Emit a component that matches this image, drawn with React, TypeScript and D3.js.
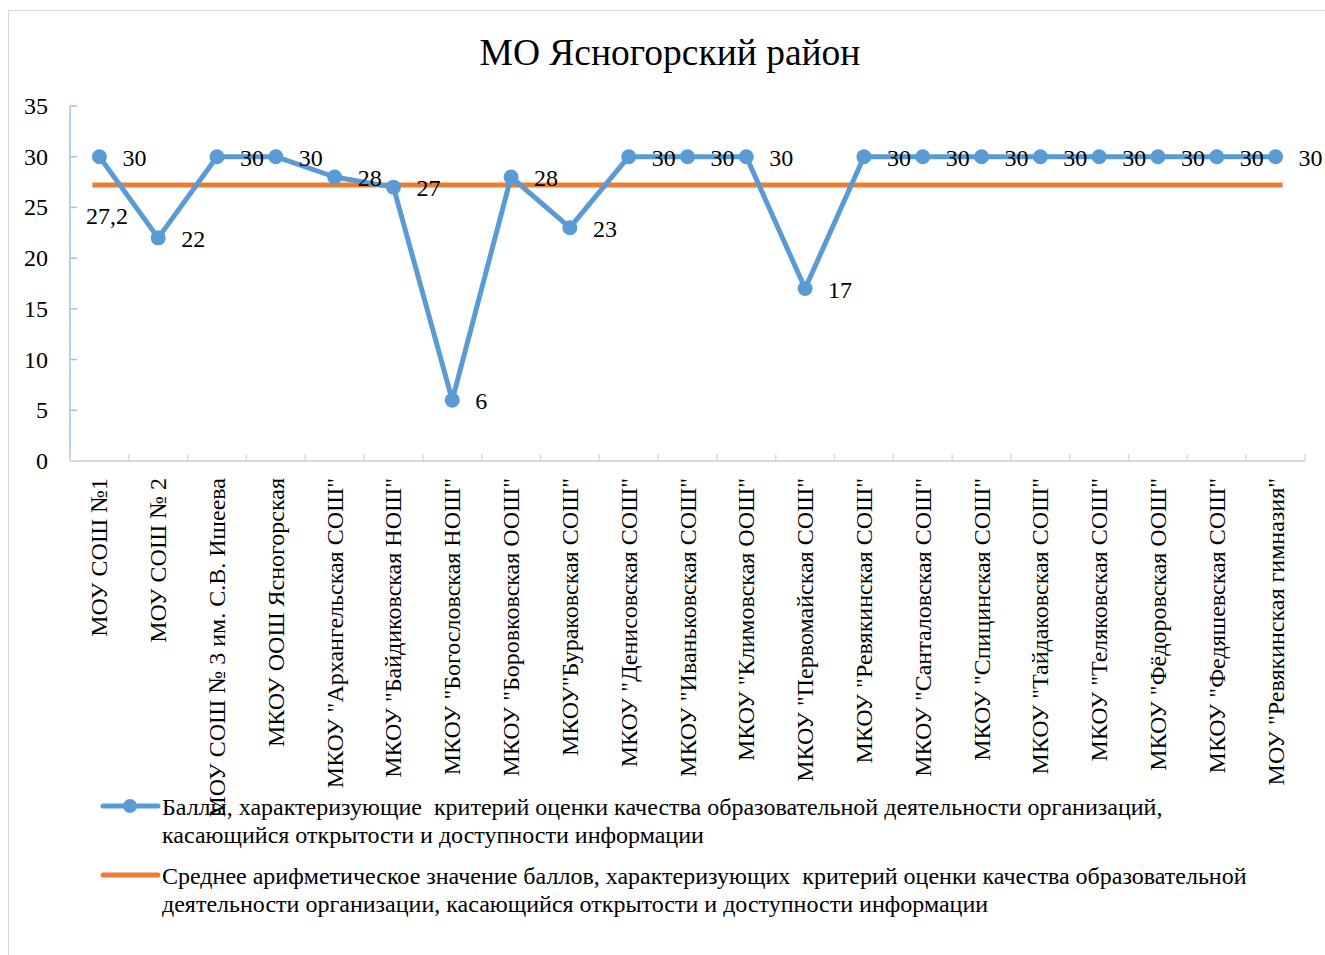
import * as d3 from "d3";

const title = "МО Ясногорский район";

const schools = [
  "МОУ СОШ №1",
  "МОУ СОШ № 2",
  "МОУ СОШ № 3 им. С.В. Ишеева",
  "МКОУ ООШ Ясногорская",
  'МКОУ "Архангельская СОШ"',
  'МКОУ "Байдиковская НОШ"',
  'МКОУ "Богословская НОШ"',
  'МКОУ "Боровковская ООШ"',
  'МКОУ"Бураковская СОШ"',
  'МКОУ "Денисовская СОШ"',
  'МКОУ "Иваньковская СОШ"',
  'МКОУ "Климовская ООШ"',
  'МКОУ "Первомайская СОШ"',
  'МКОУ "Ревякинская СОШ"',
  'МКОУ "Санталовская СОШ"',
  'МКОУ "Спицинская СОШ"',
  'МКОУ "Тайдаковская СОШ"',
  'МКОУ "Теляковская СОШ"',
  'МКОУ "Фёдоровская ООШ"',
  'МКОУ "Федяшевская СОШ"',
  'МОУ "Ревякинская гимназия"',
];

const scores = [30, 22, 30, 30, 28, 27, 6, 28, 23, 30, 30, 30, 17, 30, 30, 30, 30, 30, 30, 30, 30];

const average = 27.2;
const averageLabel = "27,2";

const yTicks = [0, 5, 10, 15, 20, 25, 30, 35];

const legendScores = [
  "Баллы, характеризующие  критерий оценки качества образовательной деятельности организаций,",
  "касающийся открытости и доступности информации",
];
const legendAverage = [
  "Среднее арифметическое значение баллов, характеризующих  критерий оценки качества образовательной",
  "деятельности организации, касающийся открытости и доступности информации",
];

const W = 1325;
const H = 955;
const FONT = "'Times New Roman', 'Liberation Serif', serif";
const BLUE = "#5b9bd5";
const ORANGE = "#ed7d31";
const FS = 24;

export default function App() {
  const left = 70;
  const right = 1305;
  const top = 106;
  const bottom = 461;

  const x = d3.scaleBand<string>().domain(schools).range([left, right]);
  const y = d3.scaleLinear().domain([0, 35]).range([bottom, top]);
  const cx = (i: number) => (x(schools[i]) as number) + x.bandwidth() / 2;

  const line = d3
    .line<number>()
    .x((_, i) => cx(i))
    .y((d) => y(d));

  const boundaries = d3.range(schools.length + 1).map((i) => left + i * x.bandwidth());
  const avgY = y(average);

  return (
    <svg
      width={W}
      height={H}
      style={{ position: "absolute", left: 0, top: 0, background: "#fff" }}
      fontFamily={FONT}
    >
      <rect x={8.5} y={10.5} width={1330} height={960} fill="#fff" stroke="#d9d9d9" />
      <text x={670} y={65} textAnchor="middle" fontSize={37.5} fill="#000">
        {title}
      </text>

      {/* y axis */}
      <line x1={left} x2={left} y1={top} y2={bottom} stroke="#9dc3e6" strokeWidth={1.5} />
      {yTicks.map((t) => (
        <g key={t}>
          <line x1={left} x2={left + 7} y1={y(t)} y2={y(t)} stroke="#9dc3e6" strokeWidth={1.5} />
          <text x={48} y={y(t) + 8} textAnchor="end" fontSize={FS}>
            {t}
          </text>
        </g>
      ))}

      {/* x axis */}
      <line x1={left} x2={right} y1={bottom} y2={bottom} stroke="#d9d9d9" strokeWidth={2} />
      {boundaries.map((b, i) => (
        <line key={i} x1={b} x2={b} y1={bottom} y2={bottom - 7} stroke="#d9d9d9" strokeWidth={1.5} />
      ))}
      {schools.map((s, i) => (
        <text
          key={s}
          transform={`translate(${cx(i) + 8},478) rotate(-90)`}
          textAnchor="end"
          fontSize={FS}
        >
          {s}
        </text>
      ))}

      {/* average line */}
      <line
        x1={cx(0) - 7}
        x2={cx(schools.length - 1) + 7}
        y1={avgY}
        y2={avgY}
        stroke={ORANGE}
        strokeWidth={5}
      />

      {/* scores series */}
      <path d={line(scores) ?? ""} fill="none" stroke={BLUE} strokeWidth={5} strokeLinejoin="round" />
      {scores.map((v, i) => (
        <circle key={i} cx={cx(i)} cy={y(v)} r={7.5} fill={BLUE} />
      ))}
      {scores.map((v, i) => (
        <text key={i} x={cx(i) + 23} y={y(v) + 9} fontSize={FS}>
          {v}
        </text>
      ))}
      <text x={cx(0) + 7.5} y={avgY + 39} textAnchor="middle" fontSize={FS}>
        {averageLabel}
      </text>

      {/* legend */}
      <line x1={103} x2={158} y1={806} y2={806} stroke={BLUE} strokeWidth={5} strokeLinecap="round" />
      <circle cx={130} cy={806} r={7} fill={BLUE} />
      {legendScores.map((t, i) => (
        <text key={i} x={162} y={815 + i * 28} fontSize={FS} style={{ whiteSpace: "pre" }}>
          {t}
        </text>
      ))}
      <line x1={103} x2={158} y1={875} y2={875} stroke={ORANGE} strokeWidth={5} strokeLinecap="round" />
      {legendAverage.map((t, i) => (
        <text key={i} x={162} y={884 + i * 28} fontSize={FS} style={{ whiteSpace: "pre" }}>
          {t}
        </text>
      ))}
    </svg>
  );
}
